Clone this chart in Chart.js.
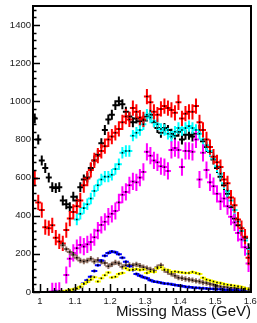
<!DOCTYPE html>
<html>
<head>
<meta charset="utf-8">
<script src="https://cdn.jsdelivr.net/npm/chart.js@4.4.0/dist/chart.umd.min.js"></script>
<style>
  html, body { margin: 0; padding: 0; background: #fff; }
  canvas { display: block; }
</style>
</head>
<body>
<canvas id="massChart" width="257" height="323"></canvas>
<script>
// bin centres (GeV), 0.01 wide
const bins = [0.985, 0.995, 1.005, 1.015, 1.025, 1.035, 1.045, 1.055, 1.065, 1.075,
  1.085, 1.095, 1.105, 1.115, 1.125, 1.135, 1.145, 1.155, 1.165, 1.175,
  1.185, 1.195, 1.205, 1.215, 1.225, 1.235, 1.245, 1.255, 1.265, 1.275,
  1.285, 1.295, 1.305, 1.315, 1.325, 1.335, 1.345, 1.355, 1.365, 1.375,
  1.385, 1.395, 1.405, 1.415, 1.425, 1.435, 1.445, 1.455, 1.465, 1.475,
  1.485, 1.495, 1.505, 1.515, 1.525, 1.535, 1.545, 1.555, 1.565, 1.575,
  1.585, 1.595];

const blackCounts = [910, 800, 690, 650, 600, 550, 545, 550, 480, 460,
  445, 500, 480, 550, 590, 600, 650, 690, 720, 780,
  850, 905, 930, 980, 1000, 985, 945, 920, 890, 910,
  895, 900, 920, 930, 890, 860, 835, 860, 850, 830,
  820, 840, 800, 825, 825, 815, 830, 850, 790, 760,
  735, 695, 650, 605, 560, 515, 445, 385, 350, 320,
  285, 230];

const cyanCounts = [null, null, null, null, null, null, null, null, null, null,
  null, null, 380, 410, 440, 460, 490, 530, 560, 590,
  605, 605, 615, 645, 670, 730, 740, 740, 820, 835,
  850, 880, 930, 915, 895, 880, 855, 850, 830, 815,
  840, 860, 850, 860, 870, 860, 850, 830, 800, 770,
  740, 700, 660, 620, 570, 530, 480, 430, 370, 320,
  270, 200];

const magentaCounts = [null, null, null, null, null, 3, 4, 6, null, 89,
  175, 205, 230, 247, 238, 250, 262, 287, 322, 352,
  368, 395, 410, 425, 470, 510, 525, 560, 580, 575,
  600, 630, 735, 715, 690, 680, 660, 655, 635, 745,
  755, 745, 655, 740, 740, 735, 800, 590, 730, 640,
  575, 555, 515, 475, 490, 450, 395, 365, 310, 275,
  235, 150];

const redCounts = [595, 470, 430, 340, 335, 350, 285, 265, 255, 325,
  385, 420, 450, 480, 560, 595, 640, 690, 715, 740,
  765, 800, 815, 835, 855, 890, 920, 905, 965, 945,
  915, 905, 1025, 995, 945, 930, 960, 975, 965, 955,
  940, 995, 910, 935, 945, 945, 975, 890, 850, 800,
  760, 710, 680, 655, 590, 570, 495, 455, 380, 335,
  290, 180];

const brownCounts = [null, null, null, null, null, null, null, null, 245, 225,
  210, 195, 180, 165, 160, 165, 175, 160, 168, 158,
  152, 135, 145, 155, 150, 132, 140, 142, 140, 145,
  138, 130, 125, 118, 112, 130, 140, 115, 105, 95,
  85, 75, 72, 68, 65, 62, 58, 55, 50, 47,
  42, 38, 32, 28, 26, 24, 22, 21, 20, 17,
  14, 12];

const blueCounts = [null, null, null, null, null, null, 1, 2, 3, 5,
  8, 12, 18, 26, 45, 62, 80, 110, 140, 165,
  190, 205, 212, 208, 198, 180, 158, 135, 115, 95,
  85, 78, 72, 62, 55, 52, 48, 45, 43, 40,
  37, 34, 31, 28, 26, 24, 22, 21, 20, 18,
  17, 16, 15, 14, 12, 11, 10, 9, 8, 6,
  5, 4];

const yellowCounts = [null, null, null, null, null, null, null, 1, 3, 6,
  10, 15, 18, 28, 42, 52, 65, 78, 55, 72,
  88, 102, 76, 80, 95, 100, 125, 115, 118, 120,
  115, 118, 100, 108, 105, 125, 130, 118, 115, 105,
  108, 105, 102, 100, 100, 105, 100, 95, 75, 65,
  60, 55, 50, 47, 42, 38, 36, 33, 30, 26,
  20, 15];

// drawing order: later series sit on top
const seriesCounts = [blackCounts, cyanCounts, magentaCounts, redCounts, brownCounts, blueCounts, yellowCounts];
const seriesErrors = [26, 30, 45, 40, 14, 5, 6];
const seriesColors = ['#000000', '#00ffff', '#ff00ff', '#ff0000', '#8f6f60', '#0000ff', '#ffff00'];

const xTickValues = [1.0, 1.1, 1.2, 1.3, 1.4, 1.5, 1.6];
const yTickValues = [0, 200, 400, 600, 800, 1000, 1200, 1400];

const datasets = seriesCounts.map((counts, s) => ({
    data: bins.map((b, i) => ({ x: b, y: counts[i], e: seriesErrors[s] })).filter(p => p.y !== null),
    barColor: seriesColors[s],
    pointStyle: 'rect',
    pointRadius: 1.1,
    pointBackgroundColor: '#000',
    pointBorderWidth: 0,
    showLine: false
}));

// vertical + horizontal error crosses, ROOT style
const errorBars = {
    id: 'errorBars',
    beforeDatasetsDraw(chart) {
        const { ctx, chartArea: a, scales: { x, y } } = chart;
        ctx.save();
        ctx.beginPath();
        ctx.rect(a.left, a.top, a.right - a.left, a.bottom - a.top);
        ctx.clip();
        ctx.lineWidth = 2;
        chart.data.datasets.forEach(ds => {
            ctx.strokeStyle = ds.barColor;
            ctx.beginPath();
            ds.data.forEach(p => {
                const px = x.getPixelForValue(p.x);
                const py = y.getPixelForValue(p.y);
                const ey = Math.max(Math.abs(y.getPixelForValue(p.y + p.e) - py), 1.5);
                ctx.moveTo(px - 3, py);
                ctx.lineTo(px + 3, py);
                ctx.moveTo(px, py - ey);
                ctx.lineTo(px, py + ey);
            });
            ctx.stroke();
        });
        ctx.restore();
    }
};

// frame and inward ticks
const rootAxes = {
    id: 'rootAxes',
    afterDraw(chart) {
        const { ctx, chartArea: a, scales: { x, y } } = chart;
        ctx.save();
        ctx.strokeStyle = '#000';
        ctx.lineWidth = 1.5;
        ctx.beginPath();
        for (let v = 0; v <= 1500; v += 40) {
            const py = Math.round(y.getPixelForValue(v)) + 0.5;
            const len = v % 200 === 0 ? 7 : 3.5;
            ctx.moveTo(a.left, py);
            ctx.lineTo(a.left + len, py);
        }
        for (let k = 49; k <= 80; k++) {
            const px = Math.round(x.getPixelForValue(k * 0.02)) + 0.5;
            const len = k % 5 === 0 ? 8 : 4;
            ctx.moveTo(px, a.bottom);
            ctx.lineTo(px, a.bottom - len);
        }
        ctx.stroke();
        ctx.lineWidth = 2;
        ctx.strokeRect(a.left, a.top, a.right - a.left, a.bottom - a.top);
        ctx.restore();
    }
};

const tickFont = { family: 'Liberation Sans', size: 9.5 };

new Chart(document.getElementById('massChart').getContext('2d'), {
    type: 'scatter',
    data: { datasets: datasets },
    options: {
        responsive: false,
        animation: false,
        layout: { padding: { top: 6, right: 6, left: 0, bottom: 0 } },
        plugins: {
            legend: { display: false },
            tooltip: { enabled: false }
        },
        scales: {
            x: {
                type: 'linear',
                min: 0.98,
                max: 1.602,
                grid: { display: false, drawTicks: false },
                border: { display: false },
                afterBuildTicks: s => { s.ticks = xTickValues.map(v => ({ value: v })); },
                afterFit: s => { s.height = 31; s.paddingLeft = 0; s.paddingRight = 0; },
                ticks: {
                    font: tickFont,
                    color: '#222',
                    padding: 4,
                    maxRotation: 0,
                    autoSkip: false,
                    callback: v => String(+v.toFixed(1))
                },
                title: {
                    display: true,
                    text: 'Missing Mass (GeV)',
                    align: 'end',
                    color: '#111',
                    font: { family: 'Liberation Sans', size: 15 },
                    padding: { top: 0, bottom: 2 }
                }
            },
            y: {
                min: 0,
                max: 1500,
                grid: { display: false, drawTicks: false },
                border: { display: false },
                afterBuildTicks: s => { s.ticks = yTickValues.map(v => ({ value: v })); },
                afterFit: s => { s.width = 33; s.paddingTop = 0; s.paddingBottom = 0; },
                ticks: {
                    font: tickFont,
                    color: '#222',
                    padding: 2,
                    autoSkip: false,
                    callback: v => String(v)
                }
            }
        }
    },
    plugins: [errorBars, rootAxes]
});
</script>
</body>
</html>
